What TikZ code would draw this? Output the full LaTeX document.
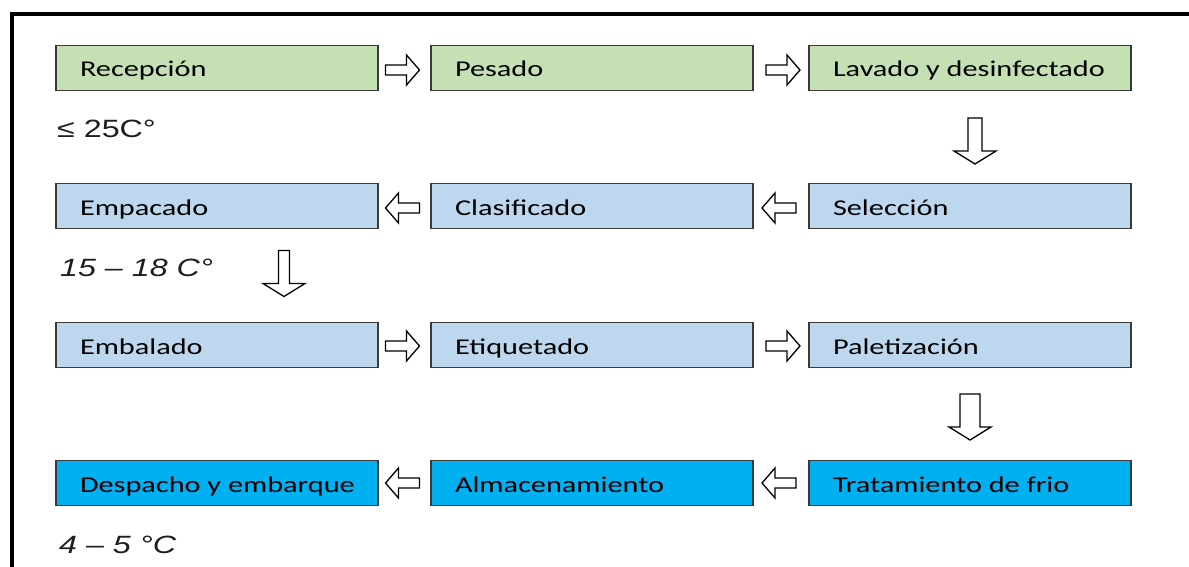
\documentclass[tikz,border=0pt]{standalone}
\usepackage{fontspec}
\setmainfont{Carlito}
\newfontfamily\labfont{Liberation Sans}
\usetikzlibrary{calc}
\definecolor{cgreen}{HTML}{C5E0B4}
\definecolor{cblue}{HTML}{BDD7EE}
\definecolor{ccyan}{HTML}{00B0F0}
\definecolor{cedge}{HTML}{3A3A3A}
\definecolor{ctemp}{HTML}{1E1E1E}
\newcommand{\boxtxt}[1]{\makebox[274pt][l]{\scalebox{1.34}[1]{#1}}}
\newcommand{\temptxt}[1]{\scalebox{1.29}[1]{#1}}
% horizontal block arrow: #1 centre, #2 = 1 (right) or -1 (left)
\newcommand{\harrow}[2]{\draw[blockarrow,shift={(#1)},xscale=#2]
  (-17,-5) -- (4,-5) -- (4,-15) -- (17,0) -- (4,15) -- (4,5) -- (-17,5) -- cycle;}
% vertical block arrow: #1 centre, #2 half shaft width
\newcommand{\varrow}[2]{\draw[blockarrow,shift={(#1)}]
  (-#2,-23) -- (#2,-23) -- (#2,10) -- (21,10) -- (0,23) -- (-21,10) -- (-#2,10) -- cycle;}
\tikzset{
  stepbox/.style={draw=cedge, line width=1.3pt, rectangle, minimum width=322pt,
    minimum height=45pt, inner xsep=24pt, inner ysep=0pt, text height=18pt,
    text depth=0pt, font=\fontsize{22.6}{26}\selectfont, text=black},
  greenbox/.style={stepbox, fill=cgreen},
  bluebox/.style={stepbox, fill=cblue},
  cyanbox/.style={stepbox, fill=ccyan},
  blockarrow/.style={draw=black, fill=white, line width=1.3pt, line join=miter},
  templabel/.style={anchor=base west, inner sep=0pt, text=ctemp,
    font=\labfont\fontsize{25}{30}\selectfont},
  frame/.style={line width=4pt, draw=black}
}
\begin{document}
\begin{tikzpicture}[x=1pt,y=-1pt]
\useasboundingbox (0,0) rectangle (1189,567);
\draw[frame] (12,567) -- (12,14) -- (1189,14);

% row 1
\node[greenbox] (rec) at (217,68) {\boxtxt{Recepción}};
\node[greenbox] (pes) at (592,68) {\boxtxt{Pesado}};
\node[greenbox] (lav) at (970,68) {\boxtxt{Lavado y desinfectado}};
% row 2
\node[bluebox] (emp) at (217,206) {\boxtxt{Empacado}};
\node[bluebox] (cla) at (592,206) {\boxtxt{Clasificado}};
\node[bluebox] (sel) at (970,206) {\boxtxt{Selección}};
% row 3
\node[bluebox] (emb) at (217,345) {\boxtxt{Embalado}};
\node[bluebox] (eti) at (592,345) {\boxtxt{Etiquetado}};
\node[bluebox] (pal) at (970,345) {\boxtxt{Paletización}};
% row 4
\node[cyanbox] (des) at (217,483) {\boxtxt{Despacho y embarque}};
\node[cyanbox] (alm) at (592,483) {\boxtxt{Almacenamiento}};
\node[cyanbox] (tra) at (970,483) {\boxtxt{Tratamiento de frio}};

% temperature labels
\node[templabel] (t1) at (57,138) {\temptxt{≤ 25C°}};
\node[templabel] (t2) at (60,276) {\temptxt{\itshape 15 – 18 C°}};
\node[templabel] (t3) at (59,553) {\temptxt{\itshape 4 – 5 °C}};

% horizontal arrows
\harrow{$(rec.east)!0.5!(pes.west)+(-2,2)$}{1}
\harrow{$(pes.east)!0.5!(lav.west)+(2,2)$}{1}
\harrow{$(cla.east)!0.5!(sel.west)+(-2,2)$}{-1}
\harrow{$(emp.east)!0.5!(cla.west)+(-2,2)$}{-1}
\harrow{$(emb.east)!0.5!(eti.west)+(-2,1)$}{1}
\harrow{$(eti.east)!0.5!(pal.west)+(2,1)$}{1}
\harrow{$(alm.east)!0.5!(tra.west)+(-2,0)$}{-1}
\harrow{$(des.east)!0.5!(alm.west)+(-2,0)$}{-1}

% vertical arrows
\varrow{$(lav.south)!0.5!(sel.north)+(5,4)$}{7}
\varrow{$(emp.south)!0.5!(emb.north)+(67,-2)$}{5.5}
\varrow{$(pal.south)!0.5!(tra.north)+(0,3)$}{10}
\end{tikzpicture}
\end{document}
